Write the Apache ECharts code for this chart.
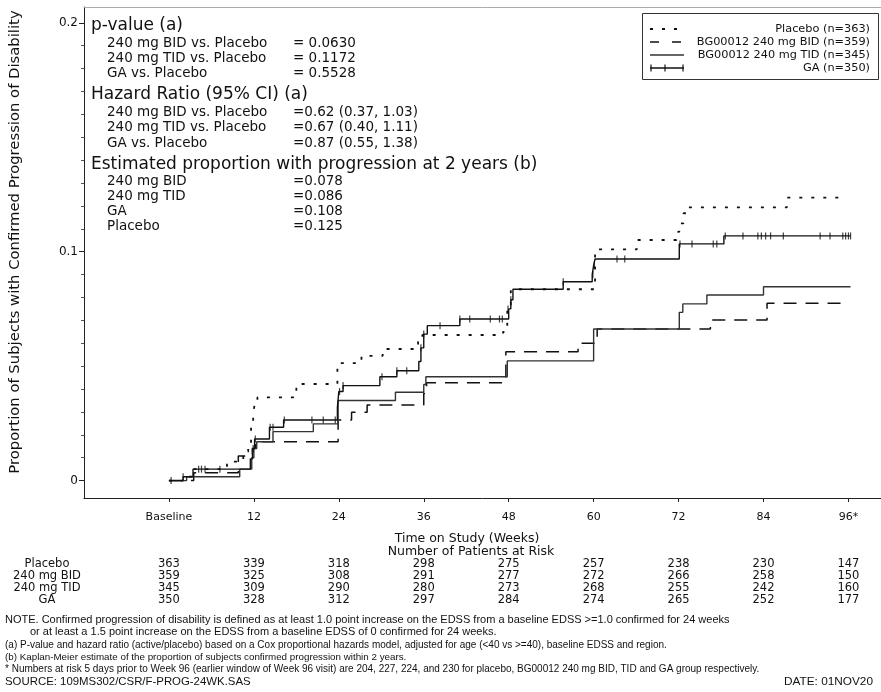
<!DOCTYPE html>
<html><head><meta charset="utf-8">
<script src="https://cdn.jsdelivr.net/npm/echarts@6/dist/echarts.min.js"></script>
<style>html,body{margin:0;padding:0;background:#fff}#c{width:881px;height:692px}</style>
</head><body><div id="c"></div>
<script>
// ---- axis ticks ----
const tickWeeks = [0, 12, 24, 36, 48, 60, 72, 84, 96];
const tickLabels = ['Baseline', '12', '24', '36', '48', '60', '72', '84', '96*'];
const yTickValues = [0, 0.1, 0.2];
const yTickLabels = ['0', '0.1', '0.2'];
const yMinorTicks = [0.01,0.02,0.03,0.04,0.05,0.06,0.07,0.08,0.09,0.11,0.12,0.13,0.14,0.15,0.16,0.17,0.18,0.19];

// ---- Kaplan-Meier step curves (week, proportion) ----
const placeboWeeks = [0, 2, 3.4, 8.2, 10.5, 11.2, 11.6, 11.9, 12.1, 12.5, 18.0, 23.8, 27.2, 30.2, 35.2, 35.8, 47.2, 47.8, 48.3, 60.2, 66.1, 71.7, 72.1, 72.7, 73.2, 87.3, 95.3];
const placeboProp  = [0, 0.0017, 0.005, 0.0083, 0.0127, 0.0163, 0.0243, 0.0294, 0.033, 0.0364, 0.0422, 0.0513, 0.0545, 0.0575, 0.0607, 0.0636, 0.065, 0.075, 0.0836, 0.101, 0.1051, 0.1087, 0.1124, 0.1168, 0.1194, 0.1236, 0.1236];

const bidWeeks = [0, 3.5, 9.8, 11.8, 12.2, 23.9, 25.8, 28.0, 36.0, 36.4, 47.6, 57.8, 60.5, 76.5, 84.5, 95.6];
const bidProp  = [0, 0.0034, 0.0108, 0.014, 0.017, 0.0265, 0.0299, 0.033, 0.038, 0.0428, 0.0563, 0.06, 0.0662, 0.0702, 0.0775, 0.0775];

const tidWeeks = [0, 2.5, 10, 11.7, 12.0, 12.4, 14.7, 20.4, 23.9, 32.0, 36.0, 36.3, 47.8, 60.0, 72.1, 72.6, 76.0, 84.0, 96.3];
const tidProp  = [0, 0.0017, 0.005, 0.01, 0.014, 0.017, 0.0214, 0.0248, 0.035, 0.0386, 0.042, 0.0454, 0.0523, 0.0662, 0.0735, 0.0772, 0.0811, 0.0847, 0.0847];

const gaWeeks = [0, 2, 3.4, 11.5, 11.8, 12.1, 14.2, 16.2, 23.8, 24.0, 24.6, 29.8, 32.2, 35.3, 35.6, 36.0, 36.5, 41.1, 48.0, 48.3, 48.6, 55.7, 59.8, 60.0, 60.2, 72.1, 78.4, 96.3];
const gaProp  = [0, 0.0017, 0.005, 0.0095, 0.014, 0.0182, 0.0233, 0.0265, 0.032, 0.0389, 0.0415, 0.0454, 0.048, 0.052, 0.058, 0.064, 0.0677, 0.0706, 0.075, 0.079, 0.0836, 0.0869, 0.09, 0.094, 0.0968, 0.1034, 0.1069, 0.1069];

// GA censoring marks
const gaCensorWeeks = [0.3, 2, 4.2, 4.6, 5.1, 7.2, 11.9, 12.2, 14.3, 14.7, 16.3, 20.2, 21.8, 23.5, 24.1, 24.6, 30.1, 32.2, 33.6, 35.6, 36.0, 38.3, 41.1, 42.5, 45.4, 46.7, 47.1, 47.9, 48.3, 55.7, 59.9, 60.1, 63.3, 64.4, 72.2, 73.9, 76.9, 77.4, 78.6, 81.1, 83.2, 83.7, 84.3, 85.0, 86.8, 92.0, 93.4, 95.2, 95.6, 96.0, 96.3];
const gaCensorProp  = [0, 0.0017, 0.005, 0.005, 0.005, 0.005, 0.014, 0.0182, 0.0233, 0.0233, 0.0265, 0.0265, 0.0265, 0.0265, 0.0389, 0.0415, 0.0454, 0.048, 0.048, 0.058, 0.064, 0.0677, 0.0706, 0.0706, 0.0706, 0.0706, 0.0706, 0.075, 0.079, 0.0869, 0.09, 0.094, 0.0968, 0.0968, 0.1034, 0.1034, 0.1034, 0.1034, 0.1069, 0.1069, 0.1069, 0.1069, 0.1069, 0.1069, 0.1069, 0.1069, 0.1069, 0.1069, 0.1069, 0.1069, 0.1069];

// ---- legend ----
const legendNames = ['Placebo (n=363)', 'BG00012 240 mg BID (n=359)', 'BG00012 240 mg TID (n=345)', 'GA (n=350)'];

// ---- number at risk ----
const riskLabels = ['Placebo', '240 mg BID', '240 mg TID', 'GA'];
const riskPlacebo = [363, 339, 318, 298, 275, 257, 238, 230, 147];
const riskBID     = [359, 325, 308, 291, 277, 272, 266, 258, 150];
const riskTID     = [345, 309, 290, 280, 273, 268, 255, 242, 160];
const riskGA      = [350, 328, 312, 297, 284, 274, 265, 252, 177];

// ---- annotation text ----
const statHeads = ['p-value (a)', 'Hazard Ratio (95% CI) (a)', 'Estimated proportion with progression at 2 years (b)'];
const pvalLabels = ['240 mg BID vs. Placebo', '240 mg TID vs. Placebo', 'GA vs. Placebo'];
const pvalValues = ['= 0.0630', '= 0.1172', '= 0.5528'];
const hrLabels = ['240 mg BID vs. Placebo', '240 mg TID vs. Placebo', 'GA vs. Placebo'];
const hrValues = ['=0.62 (0.37, 1.03)', '=0.67 (0.40, 1.11)', '=0.87 (0.55, 1.38)'];
const estLabels = ['240 mg BID', '240 mg TID', 'GA', 'Placebo'];
const estValues = ['=0.078', '=0.086', '=0.108', '=0.125'];
const notes = [
  'NOTE. Confirmed progression of disability is defined as at least 1.0 point increase on the EDSS from a baseline EDSS >=1.0 confirmed for 24 weeks',
  'or at least a 1.5 point increase on the EDSS from a baseline EDSS of 0 confirmed for 24 weeks.',
  '(a) P-value and hazard ratio (active/placebo) based on a Cox proportional hazards model, adjusted for age (<40 vs >=40), baseline EDSS and region.',
  '(b) Kaplan-Meier estimate of the proportion of subjects confirmed progression within 2 years.',
  '* Numbers at risk 5 days prior to Week 96 (earlier window of Week 96 visit) are 204, 227, 224, and 230 for placebo, BG00012 240 mg BID, TID and GA group respectively.'
];
const sourceText = 'SOURCE: 109MS302/CSR/F-PROG-24WK.SAS';
const dateText = 'DATE: 01NOV20';

const FONT = '"DejaVu Sans", "Liberation Sans", sans-serif';
const NFONT = '"Liberation Sans", Arial, sans-serif';
const INK = '#111';

function pairs(w, p) { return w.map((x, i) => [x, p[i]]); }

const chart = echarts.init(document.getElementById('c'), null, {renderer: 'canvas'});
const X_MIN = -12, X_MAX = 100.6, Y_MIN = -0.0076, Y_MAX = 0.2069;

chart.setOption({
  animation: false,
  backgroundColor: '#fff',
  grid: {left: 84, right: 0, top: 7, bottom: 194},
  xAxis: [{
    type: 'value', min: X_MIN, max: X_MAX, position: 'bottom',
    axisLine: {show: true, onZero: false, lineStyle: {color: '#222', width: 1}},
    splitLine: {show: false},
    axisTick: {show: true, customValues: tickWeeks, length: 4, lineStyle: {color: '#222'}},
    axisLabel: {customValues: tickWeeks, formatter: v => tickLabels[tickWeeks.indexOf(v)], margin: 14,
      fontFamily: FONT, fontSize: 11, color: INK}
  }, {
    type: 'value', position: 'top', min: X_MIN, max: X_MAX,
    axisLine: {show: true, onZero: false, lineStyle: {color: '#aaa', width: 1}},
    axisTick: {show: false}, axisLabel: {show: false}, splitLine: {show: false}
  }],
  yAxis: [{
    type: 'value', min: Y_MIN, max: Y_MAX, position: 'left',
    axisLine: {show: true, onZero: false, lineStyle: {color: '#222', width: 1}},
    splitLine: {show: false},
    axisTick: {show: true, customValues: yTickValues, length: 5, lineStyle: {color: '#222'}},
    axisLabel: {customValues: yTickValues, margin: 6, fontFamily: FONT, fontSize: 12, color: INK,
      formatter: v => { const i = yTickValues.findIndex(t => Math.abs(t - v) < 1e-9); return i >= 0 ? yTickLabels[i] : ''; }}
  }, {
    type: 'value', min: Y_MIN, max: Y_MAX, position: 'left', offset: 0,
    axisLine: {show: false, onZero: false}, splitLine: {show: false},
    axisTick: {show: true, customValues: yMinorTicks, length: 3, lineStyle: {color: '#555'}},
    axisLabel: {show: false}
  }],
  series: [
    {name: legendNames[0], type: 'line', step: 'end', showSymbol: false, data: pairs(placeboWeeks, placeboProp),
      lineStyle: {color: INK, width: 1.8, type: [3, 9]}},
    {name: legendNames[1], type: 'line', step: 'end', showSymbol: false, data: pairs(bidWeeks, bidProp),
      lineStyle: {color: INK, width: 1.5, type: [13, 9]}},
    {name: legendNames[2], type: 'line', step: 'end', showSymbol: false, data: pairs(tidWeeks, tidProp),
      lineStyle: {color: '#333', width: 1.4}},
    {name: legendNames[3], type: 'line', step: 'end', showSymbol: false, data: pairs(gaWeeks, gaProp),
      lineStyle: {color: INK, width: 1.4}},
    {name: 'GA censored', type: 'scatter', data: pairs(gaCensorWeeks, gaCensorProp),
      symbol: 'rect', symbolSize: [1.2, 7], itemStyle: {color: INK}, z: 5}
  ]
});

// ---- text / legend graphics ----
const g = [];
function txt(text, x, y, size, opts) {
  opts = opts || {};
  g.push({type: 'text', x: x, y: y, rotation: opts.rotation || 0, z: 10,
    style: {text: text, fontFamily: opts.font || FONT, fontSize: size, fill: INK,
      align: opts.align || 'left', verticalAlign: 'middle'}});
}
// y-axis title
txt('Proportion of Subjects with Confirmed Progression of Disability', 15, 242, 14.8, {rotation: Math.PI / 2, align: 'center'});

// stats block
txt(statHeads[0], 91, 26, 17);
pvalLabels.forEach((s, i) => { txt(s, 107, 43 + i * 15, 13.5); txt(pvalValues[i], 293, 43 + i * 15, 13.5); });
txt(statHeads[1], 91, 95, 17);
hrLabels.forEach((s, i) => { txt(s, 107, 112 + i * 15.5, 13.5); txt(hrValues[i], 293, 112 + i * 15.5, 13.5); });
txt(statHeads[2], 91, 165, 17);
estLabels.forEach((s, i) => { txt(s, 107, 181 + i * 15.3, 13.5); txt(estValues[i], 293, 181 + i * 15.3, 13.5); });

// legend box
g.push({type: 'rect', z: 10, shape: {x: 642.5, y: 13.5, width: 236, height: 66},
  style: {fill: '#fff', stroke: '#333', lineWidth: 1}});
const legY = [29, 42, 55, 68];
legendNames.forEach((s, i) => txt(s, 870, legY[i], 11.3, {align: 'right'}));
g.push({type: 'line', z: 11, shape: {x1: 650, y1: legY[0], x2: 684, y2: legY[0]}, style: {stroke: INK, lineWidth: 1.8, lineDash: [3, 9]}});
g.push({type: 'line', z: 11, shape: {x1: 650, y1: legY[1], x2: 684, y2: legY[1]}, style: {stroke: INK, lineWidth: 1.5, lineDash: [9, 13]}});
g.push({type: 'line', z: 11, shape: {x1: 650, y1: legY[2], x2: 684, y2: legY[2]}, style: {stroke: '#333', lineWidth: 1.4}});
g.push({type: 'line', z: 11, shape: {x1: 650, y1: legY[3], x2: 684, y2: legY[3]}, style: {stroke: INK, lineWidth: 1.4}});
[651, 665, 683].forEach(x => g.push({type: 'line', z: 11, shape: {x1: x, y1: legY[3] - 3.5, x2: x, y2: legY[3] + 3.5}, style: {stroke: INK, lineWidth: 1.2}}));

// axis title + at-risk table
txt('Time on Study (Weeks)', 467, 539, 12.5, {align: 'center'});
txt('Number of Patients at Risk', 471, 552, 12.5, {align: 'center'});
const riskRows = [riskPlacebo, riskBID, riskTID, riskGA];
const rowY = [564, 576, 588, 600];
riskRows.forEach((row, r) => {
  txt(riskLabels[r], 47, rowY[r], 11.5, {align: 'center'});
  row.forEach((n, i) => {
    const px = chart.convertToPixel({xAxisIndex: 0}, tickWeeks[i]);
    txt(String(n), px, rowY[r], 11.5, {align: 'center'});
  });
});

// notes
txt(notes[0], 5, 620, 11, {font: NFONT});
txt(notes[1], 30, 632, 11, {font: NFONT});
txt(notes[2], 5, 645, 10.0, {font: NFONT});
txt(notes[3], 5, 657, 9.8, {font: NFONT});
txt(notes[4], 5, 669, 10.0, {font: NFONT});
txt(sourceText, 5, 682, 11.4, {font: NFONT});
txt(dateText, 784, 682, 11.8, {font: NFONT});

chart.setOption({graphic: g});
</script>
</body></html>
